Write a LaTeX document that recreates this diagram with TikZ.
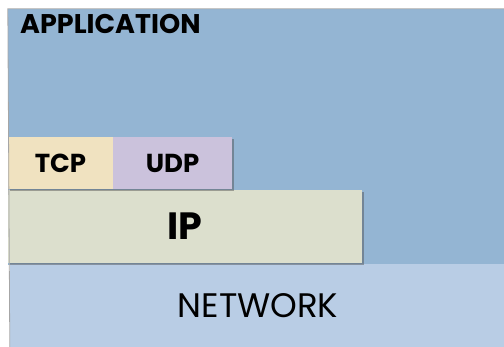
\documentclass[tikz,border=0pt]{standalone}
\usepackage{fontspec}
\setmainfont{Poppins}
\usetikzlibrary{shadows}
\definecolor{appblue}{HTML}{94B5D3}
\definecolor{netblue}{HTML}{B9CDE5}
\definecolor{ipgrey}{HTML}{DCDFCD}
\definecolor{tcpsand}{HTML}{F0E2C0}
\definecolor{udplilac}{HTML}{CBC2DC}
\begin{document}
\begin{tikzpicture}[x=1pt, y=-1pt,
  layer/.style={rectangle, inner sep=0pt, draw=none},
  shade/.style={drop shadow={shadow xshift=2pt, shadow yshift=-2.5pt, opacity=.45, fill=black!70}}]
\useasboundingbox (0,0) rectangle (504,347);
\node[layer, fill=appblue, minimum width=496pt, minimum height=256pt] (app) at (256,137){};
\node[anchor=base west, inner sep=0pt, font=\bfseries\fontsize{27}{30}\selectfont] (applbl) at (20,33.5){APPLICATION};
\node[layer, fill=netblue, minimum width=496pt, minimum height=83pt, font=\fontsize{34}{38}\selectfont] (net) at (258,305.5){NETWORK};
\node[layer, shade, fill=ipgrey, minimum width=354pt, minimum height=73pt, font=\bfseries\fontsize{38}{42}\selectfont] (ip) at (185,226.5){IP};
\node[layer, shade, fill=tcpsand, minimum width=105pt, minimum height=52pt, font=\bfseries\fontsize{26}{30}\selectfont] (tcp) at (60.5,163){TCP};
\node[layer, shade, fill=udplilac, minimum width=119pt, minimum height=52pt, font=\bfseries\fontsize{26}{30}\selectfont] (udp) at (172.5,163){UDP};
\draw[black!35, line width=.8pt] (net.south west) -- (app.north west) -- (app.north east);
\end{tikzpicture}
\end{document}
